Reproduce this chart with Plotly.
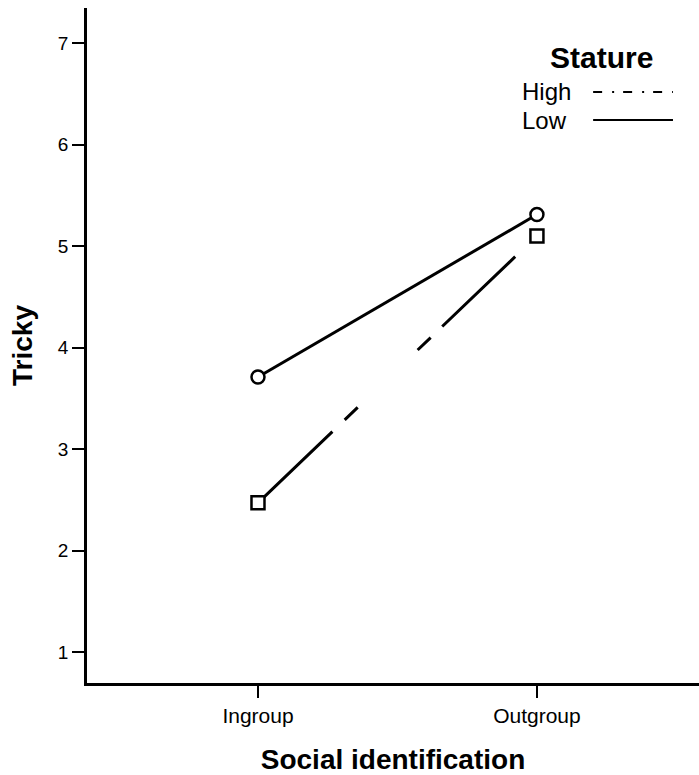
import plotly.graph_objects as go

# ---- data ----
categories = ["Ingroup", "Outgroup"]
x_pos = [0, 1]
low_values = [3.71, 5.31]
high_values = [2.47, 5.10]
y_ticks = [1, 2, 3, 4, 5, 6, 7]

FONT = "Arial, Liberation Sans, Helvetica, sans-serif"

fig = go.Figure()

fig.add_trace(go.Scatter(
    x=x_pos, y=high_values, mode="lines+markers", name="High",
    line=dict(color="black", width=3, dash="103px,17px,18px,83px,18px,16px,101px,100px"),
    marker=dict(symbol="square", size=13, color="white", line=dict(color="black", width=2.5)),
    showlegend=False,
))
fig.add_trace(go.Scatter(
    x=x_pos, y=low_values, mode="lines+markers", name="Low",
    line=dict(color="black", width=3),
    marker=dict(symbol="circle", size=13, color="white", line=dict(color="black", width=2.5)),
    showlegend=False,
))

# custom legend (text left, line sample right)
fig.add_annotation(text="<b>Stature</b>", xref="paper", yref="paper", x=0.840, y=0.927,
                   showarrow=False, font=dict(family=FONT, size=30, color="black"),
                   xanchor="center", yanchor="middle")
fig.add_annotation(text="High", xref="paper", yref="paper", x=0.7075, y=0.8756,
                   showarrow=False, font=dict(family=FONT, size=24, color="black"),
                   xanchor="left", yanchor="middle")
fig.add_annotation(text="Low", xref="paper", yref="paper", x=0.7075, y=0.834,
                   showarrow=False, font=dict(family=FONT, size=24, color="black"),
                   xanchor="left", yanchor="middle")
fig.add_shape(type="line", xref="paper", yref="paper", x0=0.827, x1=0.9575, y0=0.8756, y1=0.8756,
              line=dict(color="black", width=2, dash="9px,10px,2px,9px"))
fig.add_shape(type="line", xref="paper", yref="paper", x0=0.827, x1=0.9575, y0=0.834, y1=0.834,
              line=dict(color="black", width=2))

fig.update_layout(
    width=699, height=775,
    margin=dict(l=87, r=0, t=8, b=92),
    plot_bgcolor="white", paper_bgcolor="white",
    font=dict(family=FONT, color="black"),
    xaxis=dict(
        range=[-0.613, 1.581], tickvals=x_pos, ticktext=categories,
        showgrid=False, zeroline=False, showline=True, linecolor="black", linewidth=2.5,
        ticks="outside", ticklen=12, tickwidth=2, tickcolor="black",
        tickfont=dict(family=FONT, size=21, color="black"),
        title=dict(text="<b>Social identification</b>", font=dict(family=FONT, size=28, color="black"),
                   standoff=24),
    ),
    yaxis=dict(
        range=[0.695, 7.345], tickvals=y_ticks,
        showgrid=False, zeroline=False, showline=True, linecolor="black", linewidth=2.5,
        ticks="outside", ticklen=12, tickwidth=2, tickcolor="black",
        tickfont=dict(family=FONT, size=19, color="black"),
        title=dict(text="<b>Tricky</b>", font=dict(family=FONT, size=28, color="black"),
                   standoff=18),
    ),
)

fig.write_html("out.html", config={"displayModeBar": False},
               post_script="document.body.style.margin='0';document.body.style.overflow='hidden';")
